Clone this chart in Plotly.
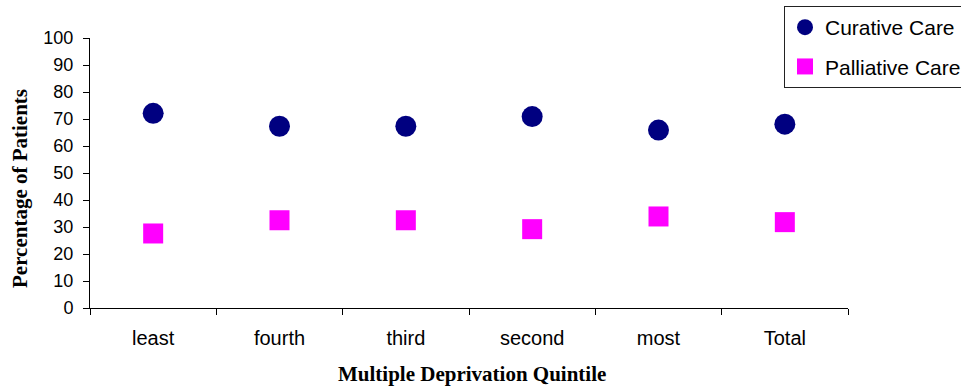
import plotly.graph_objects as go

# Share of patients by deprivation quintile
quintiles = ["least", "fourth", "third", "second", "most", "Total"]
curative_care = [72.1, 67.3, 67.3, 70.9, 65.9, 68.1]
palliative_care = [27.6, 32.5, 32.5, 29.2, 33.9, 31.8]

y_ticks = list(range(0, 101, 10))

fig = go.Figure()
fig.add_trace(go.Scatter(
    x=quintiles, y=curative_care, mode="markers", name="Curative Care",
    legendgroup="curative",
    marker=dict(symbol="circle", size=21, color="#000080", line=dict(width=0)),
))
fig.add_trace(go.Scatter(
    x=quintiles, y=palliative_care, mode="markers", name="Palliative Care",
    legendgroup="palliative",
    marker=dict(symbol="square", size=20, color="#FF00FF", line=dict(width=0)),
))

sans = "Liberation Sans, Arial, sans-serif"
serif = "Liberation Serif, Times New Roman, serif"

fig.update_layout(
    width=961, height=388,
    margin=dict(l=90, r=113, t=38, b=80, autoexpand=False),
    paper_bgcolor="white", plot_bgcolor="white",
    showlegend=True,
    legend=dict(
        x=(784 - 90) / 758, xanchor="left",
        y=(308 - 6) / 270, yanchor="top",
        bgcolor="white", bordercolor="#222222", borderwidth=1,
        font=dict(family=sans, size=21, color="black"),
        traceorder="grouped", tracegroupgap=9,
    ),
    xaxis=dict(
        type="category", range=[-0.5, 5.5],
        showline=True, linecolor="black", linewidth=1,
        ticks="outside", tickson="boundaries", ticklen=6, tickcolor="black",
        showgrid=False, zeroline=False,
        tickfont=dict(family=sans, size=20, color="black"),
        ticklabelstandoff=12,
    ),
    yaxis=dict(
        range=[0, 100], tickvals=y_ticks,
        showline=True, linecolor="black", linewidth=1,
        ticks="outside", ticklen=6, tickcolor="black",
        showgrid=False, zeroline=False,
        tickfont=dict(family=sans, size=18, color="black"),
        ticklabelstandoff=6,
    ),
    annotations=[
        dict(text="<b>Multiple Deprivation Quintile</b>", xref="paper", yref="paper",
             x=(472 - 90) / 758, y=(308 - 374) / 270, xanchor="center", yanchor="middle",
             showarrow=False, font=dict(family=serif, size=21, color="black")),
        dict(text="<b>Percentage of Patients</b>", xref="paper", yref="paper",
             x=(20 - 90) / 758, y=(308 - 189) / 270, xanchor="center", yanchor="middle",
             textangle=-90, showarrow=False,
             font=dict(family=serif, size=21, color="black")),
    ],
)

fig.write_html("out.html")
